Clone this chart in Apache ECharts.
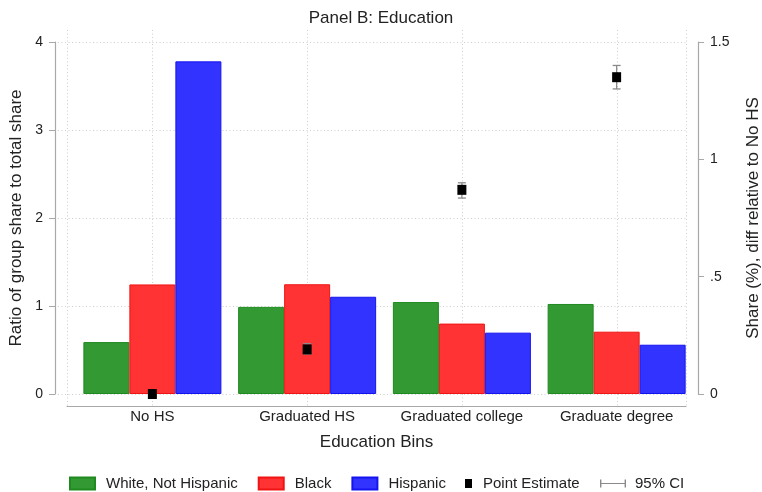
<!DOCTYPE html>
<html>
<head>
<meta charset="utf-8">
<script src="https://cdn.jsdelivr.net/npm/echarts@6/dist/echarts.min.js"></script>
<style>
  html, body { margin: 0; padding: 0; background: #fff; }
  #chart { width: 762px; height: 492px; }
</style>
</head>
<body>
<div id="chart"></div>
<script>
// Education bins on the x axis
const categories = ['No HS', 'Graduated HS', 'Graduated college', 'Graduate degree'];

// Ratio of group share to total share (left axis)
const whiteNotHispanic = [0.59, 0.99, 1.045, 1.023];
const black = [1.245, 1.247, 0.80, 0.708];
const hispanic = [3.78, 1.105, 0.697, 0.56];

// Share (%) difference relative to No HS (right axis), with 95% CI
const pointEstimate = [0, 0.19, 0.87, 1.35];
const ciLow = [0, 0.17, 0.835, 1.30];
const ciHigh = [0, 0.215, 0.90, 1.40];

// Axis ticks
const leftTicks = [0, 1, 2, 3, 4];
const rightTicks = [0, 0.5, 1, 1.5];

const FONT = '"Liberation Sans", Arial, Helvetica, sans-serif';
const TXT = '#222';
const AXIS_GRAY = '#a8a8a8';
const GRID_GRAY = '#cfcfcf';
const dotted = { color: GRID_GRAY, width: 1, type: [1, 2.5] };

const fmtRight = v => (v > 0 && v < 1) ? String(v).replace(/^0\./, '.') : String(v);

const ciData = categories.map((c, i) => [i, ciLow[i], ciHigh[i]]);

const chart = echarts.init(document.getElementById('chart'), null, { renderer: 'canvas' });

const legendText = { fontFamily: FONT, fontSize: 15, color: TXT, padding: [0, 0, 0, 6] };

chart.setOption({
  animation: false,
  backgroundColor: '#fff',
  textStyle: { fontFamily: FONT, color: TXT },
  title: {
    text: 'Panel B: Education',
    left: 376, top: 5, textAlign: 'center',
    textStyle: { fontFamily: FONT, fontSize: 17, fontWeight: 'normal', color: TXT }
  },
  legend: [
    {
      data: ['White, Not Hispanic', 'Black', 'Hispanic'],
      left: 69, top: 476, padding: 0, icon: 'rect',
      itemWidth: 25, itemHeight: 12, itemGap: 20,
      selectedMode: false,
      textStyle: legendText
    },
    {
      data: [{ name: 'Point Estimate', icon: 'rect' }],
      left: 465, top: 476, padding: 0,
      itemWidth: 7, itemHeight: 9,
      selectedMode: false,
      textStyle: legendText
    },
    {
      data: [{ name: '95% CI', icon: 'path://M0,0h1.4v8h-1.4z M0,3.4h26v1.2h-26z M24.6,0h1.4v8h-1.4z' }],
      left: 600, top: 476, padding: 0,
      itemWidth: 26, itemHeight: 8,
      selectedMode: false,
      textStyle: Object.assign({}, legendText, { padding: [0, 0, 0, 4] })
    }
  ],
  grid: [
    // bars, point estimates and both value axes
    { left: 75, right: 68, top: 42, bottom: 98, outerBoundsMode: 'none', containLabel: false },
    // plot frame: bottom axis line and edge gridlines
    { left: 67, right: 76, top: 30, bottom: 86, outerBoundsMode: 'none', containLabel: false },
    // horizontal gridlines
    { left: 58, right: 76, top: 42, bottom: 98, outerBoundsMode: 'none', containLabel: false },
    // vertical gridlines through the category centres
    { left: 152, right: 145, top: 30, bottom: 86, outerBoundsMode: 'none', containLabel: false }
  ],
  xAxis: [
    {
      type: 'category', gridIndex: 0, data: categories,
      axisLine: { show: false }, axisTick: { show: false },
      axisLabel: { fontFamily: FONT, fontSize: 15, color: TXT, margin: 15, interval: 0 },
      splitLine: { show: false }
    },
    {
      type: 'value', gridIndex: 1, min: 0, max: 1, interval: 1,
      axisLine: { show: true, onZero: false, lineStyle: { color: AXIS_GRAY, width: 1.2 } },
      axisTick: { show: false }, axisLabel: { show: false },
      splitLine: { show: true, lineStyle: dotted },
      name: 'Education Bins', nameLocation: 'middle', nameGap: 28,
      nameTextStyle: { fontFamily: FONT, fontSize: 17, color: TXT }
    },
    {
      type: 'value', gridIndex: 2, min: 0, max: 1, show: false
    },
    {
      type: 'value', gridIndex: 3, min: 0, max: 3, interval: 1,
      axisLine: { show: false }, axisTick: { show: false }, axisLabel: { show: false },
      splitLine: { show: true, lineStyle: dotted }
    }
  ],
  yAxis: [
    {
      type: 'value', gridIndex: 0, position: 'left', offset: 20,
      min: leftTicks[0], max: leftTicks[leftTicks.length - 1], interval: 1,
      axisLine: { show: true, lineStyle: { color: AXIS_GRAY, width: 1.2 } },
      axisTick: { show: true, length: 6, lineStyle: { color: AXIS_GRAY } },
      axisLabel: { fontFamily: FONT, fontSize: 14, color: TXT, margin: 12 },
      splitLine: { show: false },
      name: 'Ratio of group share to total share', nameLocation: 'middle',
      nameRotate: 90, nameGap: 22,
      nameTextStyle: { fontFamily: FONT, fontSize: 17, color: TXT }
    },
    {
      type: 'value', gridIndex: 0, position: 'right', offset: 4,
      min: rightTicks[0], max: rightTicks[rightTicks.length - 1], interval: 0.5,
      axisLine: { show: true, lineStyle: { color: AXIS_GRAY, width: 1.2 } },
      axisTick: { show: true, length: 6, lineStyle: { color: AXIS_GRAY } },
      axisLabel: { fontFamily: FONT, fontSize: 14, color: TXT, margin: 12, formatter: fmtRight },
      splitLine: { show: false },
      name: 'Share (%), diff relative to No HS', nameLocation: 'middle',
      nameRotate: 90, nameGap: 47,
      nameTextStyle: { fontFamily: FONT, fontSize: 17, color: TXT }
    },
    { type: 'value', gridIndex: 1, min: 0, max: 1, show: false },
    {
      type: 'value', gridIndex: 2, min: 0, max: 4, interval: 1,
      axisLine: { show: false }, axisTick: { show: false }, axisLabel: { show: false },
      splitLine: { show: true, lineStyle: dotted }
    },
    { type: 'value', gridIndex: 3, min: 0, max: 1, show: false }
  ],
  series: [
    {
      name: 'White, Not Hispanic', type: 'bar', xAxisIndex: 0, yAxisIndex: 0,
      data: whiteNotHispanic, barWidth: 46, barGap: '0%',
      itemStyle: { color: '#339933', borderColor: '#1f8a1f', borderWidth: 1 }
    },
    {
      name: 'Black', type: 'bar', xAxisIndex: 0, yAxisIndex: 0,
      data: black, barWidth: 46, barGap: '0%',
      itemStyle: { color: '#ff3333', borderColor: '#f01414', borderWidth: 1 }
    },
    {
      name: 'Hispanic', type: 'bar', xAxisIndex: 0, yAxisIndex: 0,
      data: hispanic, barWidth: 46, barGap: '0%',
      itemStyle: { color: '#3333ff', borderColor: '#1414f0', borderWidth: 1 }
    },
    {
      name: '95% CI', type: 'custom', xAxisIndex: 0, yAxisIndex: 1, z: 3,
      data: ciData,
      itemStyle: { color: '#8a8a8a' },
      encode: { x: 0, y: [1, 2] },
      renderItem: function (params, api) {
        const x = api.value(0);
        const lo = api.coord([x, api.value(1)]);
        const hi = api.coord([x, api.value(2)]);
        const cap = 4;
        const st = { stroke: '#8a8a8a', lineWidth: 1.3 };
        return {
          type: 'group',
          children: [
            { type: 'line', shape: { x1: lo[0], y1: lo[1], x2: hi[0], y2: hi[1] }, style: st },
            { type: 'line', shape: { x1: lo[0] - cap, y1: lo[1], x2: lo[0] + cap, y2: lo[1] }, style: st },
            { type: 'line', shape: { x1: hi[0] - cap, y1: hi[1], x2: hi[0] + cap, y2: hi[1] }, style: st }
          ]
        };
      }
    },
    {
      name: 'Point Estimate', type: 'scatter', xAxisIndex: 0, yAxisIndex: 1, z: 4,
      data: pointEstimate, symbol: 'rect', symbolSize: [9, 10],
      itemStyle: { color: '#000', opacity: 1 }
    }
  ]
});
</script>
</body>
</html>
